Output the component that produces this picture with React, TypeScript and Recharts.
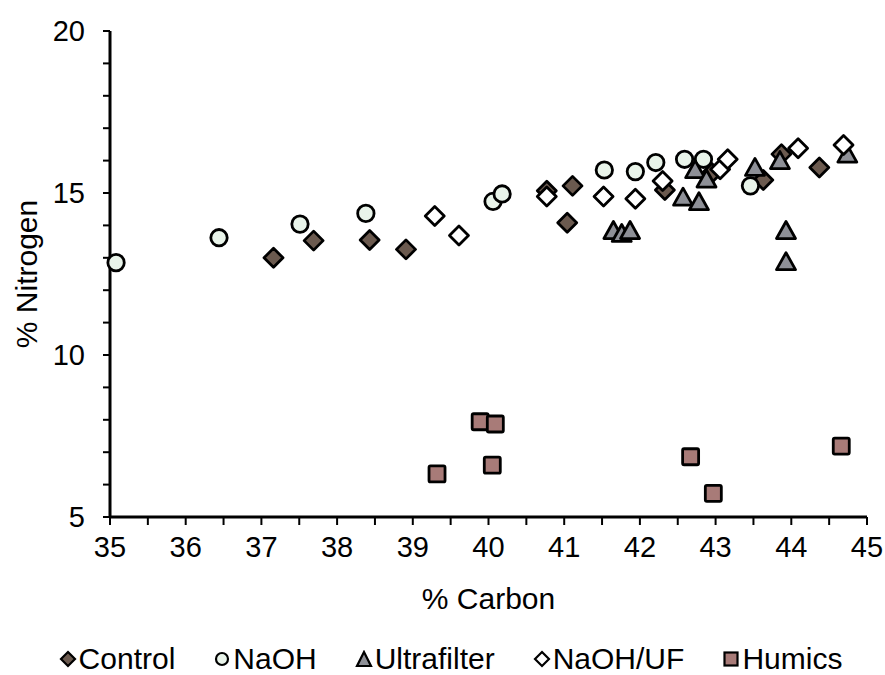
import React from 'react';
import { ScatterChart, Scatter, XAxis, YAxis, Legend } from 'recharts';

// % Carbon, % Nitrogen pairs
const control = [
  [37.16, 13.0], [37.69, 13.53], [38.43, 13.55], [38.91, 13.26],
  [40.77, 15.07], [41.11, 15.22], [41.04, 14.08], [42.33, 15.09],
  [42.95, 15.62], [43.63, 15.4], [43.87, 16.2], [44.37, 15.79],
];
const naoh = [
  [35.08, 12.85], [36.44, 13.62], [37.51, 14.04], [38.38, 14.37],
  [40.06, 14.74], [40.18, 14.97], [41.53, 15.71], [41.94, 15.66],
  [42.21, 15.94], [42.59, 16.04], [42.84, 16.04], [43.46, 15.22],
];
const ultrafilter = [
  [41.65, 13.81], [41.76, 13.72], [41.87, 13.81], [42.57, 14.84],
  [42.78, 14.7], [42.73, 15.69], [42.88, 15.4], [43.52, 15.76],
  [43.85, 15.97], [44.74, 16.17], [43.93, 13.81], [43.93, 12.85],
];
const naohUf = [
  [39.29, 14.29], [39.61, 13.69], [40.77, 14.89], [41.52, 14.89],
  [41.94, 14.82], [42.3, 15.37], [43.06, 15.73], [43.16, 16.04],
  [44.09, 16.38], [44.69, 16.48],
];
const humics = [
  [39.32, 6.33], [39.89, 7.94], [40.09, 7.87], [40.05, 6.6],
  [42.67, 6.86], [42.97, 5.73], [44.66, 7.19],
];

const xTicks = [35, 35.5, 36, 36.5, 37, 37.5, 38, 38.5, 39, 39.5, 40, 40.5, 41, 41.5, 42, 42.5, 43, 43.5, 44, 44.5, 45];
const yTicks = [5, 6, 7, 8, 9, 10, 11, 12, 13, 14, 15, 16, 17, 18, 19, 20];

const toPts = (arr: number[][]) => arr.map(([c, n]) => ({ c, n }));

const FONT = '"Liberation Sans", Arial, Helvetica, sans-serif';
const SW = 2.8;

const Diamond = (fill: string, r = 9.5) => (p: any) => (
  <path
    d={`M${p.cx},${p.cy - r}L${p.cx + r},${p.cy}L${p.cx},${p.cy + r}L${p.cx - r},${p.cy}Z`}
    fill={fill} stroke="#000" strokeWidth={SW} strokeLinejoin="round"
  />
);
const Circle = (fill: string) => (p: any) => (
  <circle cx={p.cx} cy={p.cy} r={8.2} fill={fill} stroke="#000" strokeWidth={SW} />
);
const Triangle = (fill: string) => (p: any) => (
  <path
    d={`M${p.cx},${p.cy - 10}L${p.cx + 9.5},${p.cy + 7}L${p.cx - 9.5},${p.cy + 7}Z`}
    fill={fill} stroke="#000" strokeWidth={SW} strokeLinejoin="round"
  />
);
const Square = (fill: string) => (p: any) => (
  <rect x={p.cx - 8} y={p.cy - 8} width={16} height={16} rx={1.5}
    fill={fill} stroke="#000" strokeWidth={SW} />
);

const series = [
  { name: 'Control', data: control, fill: '#6b5a4f', shape: Diamond('#6b5a4f'), icon: 'diamond' },
  { name: 'NaOH', data: naoh, fill: '#e9f4ea', shape: Circle('#e9f4ea'), icon: 'circle' },
  { name: 'Ultrafilter', data: ultrafilter, fill: '#8e9097', shape: Triangle('#8e9097'), icon: 'triangle' },
  { name: 'NaOH/UF', data: naohUf, fill: '#ffffff', shape: Diamond('#ffffff'), icon: 'diamond' },
  { name: 'Humics', data: humics, fill: '#a87b78', shape: Square('#a87b78'), icon: 'square' },
];

function LegendIcon({ kind, fill }: { kind: string; fill: string }) {
  let el;
  if (kind === 'diamond') el = <path d="M9,2L16,9L9,16L2,9Z" fill={fill} stroke="#000" strokeWidth={2.2} />;
  else if (kind === 'circle') el = <circle cx={9} cy={9} r={6} fill={fill} stroke="#000" strokeWidth={2.2} />;
  else if (kind === 'triangle') el = <path d="M9,2L16,16L2,16Z" fill={fill} stroke="#000" strokeWidth={2.2} />;
  else el = <rect x={2.5} y={2.5} width={13} height={13} fill={fill} stroke="#000" strokeWidth={2.2} />;
  return <svg width={18} height={18} style={{ marginRight: 2 }}>{el}</svg>;
}

const renderLegend = () => (
  <div style={{ display: 'flex', justifyContent: 'center', alignItems: 'center', gap: 38, height: 50, paddingTop: 18, boxSizing: 'border-box', fontFamily: FONT, fontSize: 30, color: '#000', marginLeft: 34 }}>
    {series.map(s => (
      <div key={s.name} style={{ display: 'flex', alignItems: 'center' }}>
        <LegendIcon kind={s.icon} fill={s.fill} />
        <span>{s.name}</span>
      </div>
    ))}
  </div>
);

export default function App() {
  return (
    <div style={{ position: 'absolute', left: 0, top: 0, width: 885, height: 675, background: '#fff', overflow: 'hidden' }}>
      <ScatterChart width={885} height={675} margin={{ top: 31, right: 18, left: 0, bottom: 0 }}>
        <XAxis
          type="number"
          dataKey="c"
          domain={[35, 45]}
          ticks={xTicks}
          interval={0}
          tickFormatter={(v: number) => (Number.isInteger(v) ? String(v) : '')}
          height={108}
          stroke="#000"
          strokeWidth={3}
          tickSize={8}
          tickMargin={11}
          tick={{ fill: '#000', fontSize: 29, fontFamily: FONT }}
          tickLine={{ stroke: '#000', strokeWidth: 2 }}
          label={{ value: '% Carbon', position: 'insideBottom', offset: 16, style: { fill: '#000', fontSize: 30, fontFamily: FONT } }}
        />
        <YAxis
          type="number"
          dataKey="n"
          domain={[5, 20]}
          ticks={yTicks}
          interval={0}
          tickFormatter={(v: number) => (v % 5 === 0 ? String(v) : '')}
          width={110}
          stroke="#000"
          strokeWidth={3}
          tickSize={7}
          tickMargin={18}
          tick={{ fill: '#000', fontSize: 29, fontFamily: FONT }}
          tickLine={{ stroke: '#000', strokeWidth: 2 }}
          label={{ value: '% Nitrogen', angle: -90, position: 'insideLeft', offset: 26, style: { fill: '#000', fontSize: 30, fontFamily: FONT, textAnchor: 'middle' } }}
        />
        <Legend verticalAlign="bottom" content={renderLegend} />
        {series.map(s => (
          <Scatter
            key={s.name}
            name={s.name}
            data={toPts(s.data)}
            fill={s.fill}
            shape={s.shape}
            isAnimationActive={false}
          />
        ))}
      </ScatterChart>
    </div>
  );
}
